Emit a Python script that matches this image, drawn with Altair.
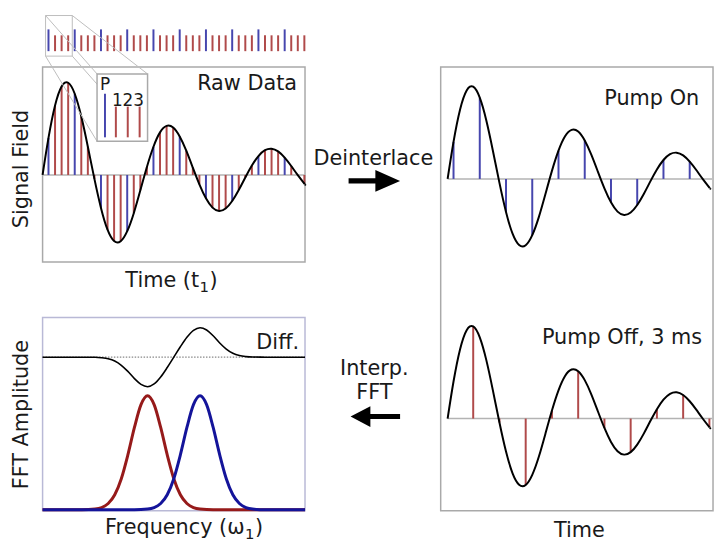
import altair as alt
import pandas as pd

FONT = "DejaVu Sans"
TXT = "#1a1a1a"
BLUE_STEM = "#4646ae"
RED_STEM = "#b04a4a"
BLUE_FFT = "#14149a"
RED_FFT = "#961a1a"
GRAY_BOX = "#a9a9a9"
GRAY_LIGHT = "#bdbdbd"
GRAY_ZERO = "#b3b3b3"
FFT_BOX = "#b9b9d6"

# ---------------- data ----------------
# sample times (units of one pulse spacing); every 4th sample is the pump ("P") pulse
STEM_T = [0.9, 1.9, 2.9, 3.9, 4.9, 5.9, 6.9, 7.9, 8.9, 9.9,
          10.9, 11.9, 12.9, 13.9, 14.9, 15.9, 16.9, 17.9, 18.9, 19.9,
          20.9, 21.9, 22.9, 23.9, 24.9, 25.9, 26.9, 27.9, 28.9, 29.9,
          30.9, 31.9, 32.9, 33.9, 34.9, 35.9, 36.9, 37.9, 38.9, 39.9]
STEM_V = [0.374, 0.701, 0.893, 0.931, 0.820, 0.590, 0.285, -0.040, -0.333, -0.553,
          -0.668, -0.670, -0.568, -0.386, -0.155, 0.081, 0.285, 0.430, 0.495, 0.478,
          0.388, 0.245, 0.074, -0.095, -0.236, -0.330, -0.364, -0.339, -0.263, -0.152,
          -0.025, 0.095, 0.191, 0.250, 0.265, 0.238, 0.175, 0.090, -0.002, -0.087]
STEM_KIND = list("P123" * 10)
CURVE_START_T, CURVE_START_V = 0.0, 0.0
CURVE_END_T, CURVE_END_V = 40.0, -0.095

RED_FREQ = [0, 15, 20, 22.5, 25, 27.5, 30, 32.5, 35, 37.5, 40, 42.5, 45, 47.5, 50, 52.5, 55, 57.5, 60, 65, 100]
RED_AMP = [0, 0, 0.006, 0.019, 0.054, 0.131, 0.272, 0.481, 0.722, 0.922, 1.0, 0.922, 0.722, 0.481, 0.272, 0.131, 0.054, 0.019, 0.006, 0, 0]
BLUE_FREQ = [0, 35, 40, 42.5, 45, 47.5, 50, 52.5, 55, 57.5, 60, 62.5, 65, 67.5, 70, 72.5, 75, 77.5, 80, 85, 100]
BLUE_AMP = [0, 0, 0.006, 0.019, 0.054, 0.131, 0.272, 0.481, 0.722, 0.922, 1.0, 0.922, 0.722, 0.481, 0.272, 0.131, 0.054, 0.019, 0.006, 0, 0]
DIFF_FREQ = [0, 15, 20, 22.5, 25, 27.5, 30, 32.5, 35, 37.5, 40, 42.5, 45, 47.5, 50,
             52.5, 55, 57.5, 60, 62.5, 65, 67.5, 70, 72.5, 75, 77.5, 80, 85, 100]
DIFF_VAL = [0, 0, -0.001, -0.005, -0.014, -0.034, -0.071, -0.125, -0.188, -0.239, -0.259, -0.235, -0.174, -0.091, 0,
            0.091, 0.174, 0.235, 0.259, 0.239, 0.188, 0.125, 0.071, 0.034, 0.014, 0.005, 0.001, 0, 0]

# ---------------- layout (pixels) ----------------
W_L, H_TL, H_BL = 310, 300, 244
W_M, W_R, H = 130, 275, 544
RAW_X0, RAW_X1, RAW_Y0, RAW_Y1, RAW_ZERO = 43, 308, 65, 262, 174
PX_PER_T, PX_PER_V = 6.625, 100.0
R_X0 = 8
ON_ZERO_PX, OFF_ZERO_PX = 178, 420
F_X0, F_X1, F_Y0, F_Y1, F_BASE, PX_PER_F, PX_PER_A = 43, 308, 18, 213, 212, 2.65, 115.0
DIFF_BASE_PX = 58

one = pd.DataFrame({"a": [0]})


def label(text, x, y, size=21, align="center", angle=0):
    return alt.Chart(one).mark_text(
        text=text, font=FONT, fontSize=size, align=align, baseline="alphabetic",
        angle=angle, color=TXT
    ).encode(x=alt.value(x), y=alt.value(y))


def sub_label(main, sub, x_join, y, sub_dy=5, close_dx=10.5):
    """Text with a subscripted '1' followed by a closing parenthesis."""
    return [
        label(main, x_join, y, align="right"),
        label(sub, x_join + 0.5, y + sub_dy, size=15, align="left"),
        label(")", x_join + close_dx, y, align="left"),
    ]


def box(x1, x2, y1, y2, stroke, sw=1.5, filled=True):
    return alt.Chart(one).mark_rect(
        fill="white", fillOpacity=1 if filled else 0, stroke=stroke, strokeWidth=sw
    ).encode(x=alt.value(x1), x2=alt.value(x2), y=alt.value(y1), y2=alt.value(y2))


def hline(x1, x2, y, color, sw=1.5, dash=None):
    kw = dict(color=color, strokeWidth=sw)
    if dash:
        kw["strokeDash"] = dash
    return alt.Chart(one).mark_rule(**kw).encode(
        x=alt.value(x1), x2=alt.value(x2), y=alt.value(y))


stems = pd.DataFrame({"t": STEM_T, "v": STEM_V, "kind": STEM_KIND})
curve = pd.DataFrame({"t": [CURVE_START_T] + STEM_T + [CURVE_END_T],
                      "v": [CURVE_START_V] + STEM_V + [CURVE_END_V]})

stem_color = alt.Color("kind:N", scale=alt.Scale(domain=["P", "1", "2", "3"],
                       range=[BLUE_STEM, RED_STEM, RED_STEM, RED_STEM]), legend=None)

# ---------------- top-left: raw data ----------------
xT = alt.X("t:Q", axis=None, scale=alt.Scale(
    domain=[-RAW_X0 / PX_PER_T, (W_L - RAW_X0) / PX_PER_T], nice=False, zero=False))
yV = alt.Y("v:Q", axis=None, scale=alt.Scale(
    domain=[(RAW_ZERO - H_TL) / PX_PER_V, RAW_ZERO / PX_PER_V], nice=False, zero=False))

raw_stems = alt.Chart(stems).mark_rule(strokeWidth=2).encode(
    x=xT, y=yV, y2=alt.datum(0), color=stem_color)
raw_curve = alt.Chart(curve).mark_line(color="black", strokeWidth=2, interpolate="natural").encode(x=xT, y=yV)
pulses = alt.Chart(stems).transform_calculate(
    top="datum.kind == 'P' ? 27 : 33").mark_rule(strokeWidth=2).encode(
    x=xT, y=alt.Y("top:Q", scale=None), y2=alt.value(49), color=stem_color)

connect = pd.DataFrame({"x1": [46, 73, 46, 73], "y1": [13, 13, 54, 54],
                        "x2": [98, 149, 98, 149], "y2": [72, 72, 140, 140]})
connectors = alt.Chart(connect).mark_rule(color=GRAY_LIGHT, strokeWidth=1).encode(
    x=alt.X("x1:Q", scale=None), y=alt.Y("y1:Q", scale=None), x2="x2:Q", y2="y2:Q")

inset = pd.DataFrame({"x": [106, 117, 129, 141], "top": [92, 105, 105, 105], "kind": ["P", "1", "2", "3"]})
inset_stems = alt.Chart(inset).mark_rule(strokeWidth=2).encode(
    x=alt.X("x:Q", scale=None), y=alt.Y("top:Q", scale=None), y2=alt.value(136), color=stem_color)

top_left = alt.layer(
    box(RAW_X0, RAW_X1, RAW_Y0, RAW_Y1, GRAY_BOX),
    hline(RAW_X0, RAW_X1, RAW_ZERO, GRAY_ZERO),
    raw_stems, raw_curve, pulses,
    box(46, 73, 13, 54, GRAY_LIGHT, sw=1, filled=False),
    connectors,
    box(98, 149, 72, 140, GRAY_BOX),
    inset_stems,
    label("P", 101, 88, size=17, align="left"),
    label("123", 113, 104, size=17, align="left"),
    label("Raw Data", 300, 88, align="right"),
    label("Signal Field", 28, 168, angle=270),
    *sub_label("Time (t", "1", 201, 287),
).properties(width=W_L, height=H_TL)

# ---------------- bottom-left: FFT ----------------
xF = alt.X("f:Q", axis=None, scale=alt.Scale(
    domain=[-F_X0 / PX_PER_F, (W_L - F_X0) / PX_PER_F], nice=False, zero=False))
yA = alt.Y("a:Q", axis=None, scale=alt.Scale(
    domain=[(F_BASE - H_BL) / PX_PER_A, F_BASE / PX_PER_A], nice=False, zero=False))
diff_base = (F_BASE - DIFF_BASE_PX) / PX_PER_A

red_df = pd.DataFrame({"f": RED_FREQ, "a": RED_AMP})
blue_df = pd.DataFrame({"f": BLUE_FREQ, "a": BLUE_AMP})
diff_df = pd.DataFrame({"f": DIFF_FREQ, "d": DIFF_VAL})

diff_line = alt.Chart(diff_df).transform_calculate(a=f"datum.d + {diff_base}").mark_line(
    color="black", strokeWidth=1.6, interpolate="monotone").encode(x=xF, y=yA)
red_line = alt.Chart(red_df).mark_line(color=RED_FFT, strokeWidth=3, interpolate="monotone").encode(x=xF, y=yA)
blue_line = alt.Chart(blue_df).mark_line(color=BLUE_FFT, strokeWidth=3, interpolate="monotone").encode(x=xF, y=yA)

bottom_left = alt.layer(
    box(F_X0, F_X1, F_Y0, F_Y1, FFT_BOX),
    hline(F_X0, F_X1, DIFF_BASE_PX, "#888888", sw=1.2, dash=[1.5, 1.5]),
    diff_line, red_line, blue_line,
    label("Diff.", 302, 50, align="right"),
    label("FFT Amplitude", 28, 116, angle=270),
    *sub_label("Frequency (\u03c9", "1", 247, 237, sub_dy=5),
).properties(width=W_L, height=H_BL)

# ---------------- middle: arrows ----------------
ARROW_R = "M-1,-0.1L0.04,-0.1L0.04,-0.42L1,0L0.04,0.42L0.04,0.1L-1,0.1Z"
ARROW_L = "M1,-0.1L-0.2,-0.1L-0.2,-0.42L-1,0L-0.2,0.42L-0.2,0.1L1,0.1Z"


def arrow(path, x, y, size):
    return alt.Chart(one).mark_point(shape=path, filled=True, color="black", opacity=1,
                                     size=size, strokeWidth=0).encode(x=alt.value(x), y=alt.value(y))


middle = alt.layer(
    label("Deinterlace", 63, 164),
    arrow(ARROW_R, 64, 180, 2704),
    label("Interp.", 64, 376),
    label("FFT", 64, 400),
    arrow(ARROW_L, 65, 418, 2500),
).properties(width=W_M, height=H)

# ---------------- right: deinterlaced ----------------
xR = alt.X("t:Q", axis=None, scale=alt.Scale(
    domain=[-R_X0 / PX_PER_T, (W_R - R_X0) / PX_PER_T], nice=False, zero=False))
yR = alt.Y("y:Q", axis=None, scale=alt.Scale(domain=[0, H / PX_PER_V], nice=False, zero=False))
on_zero = (H - ON_ZERO_PX) / PX_PER_V
off_zero = (H - OFF_ZERO_PX) / PX_PER_V


def pump(kind, zero, color):
    st = alt.Chart(stems).transform_filter(f"datum.kind == '{kind}'").transform_calculate(
        y=f"datum.v + {zero}").mark_rule(strokeWidth=2, color=color).encode(
        x=xR, y=yR, y2=alt.datum(zero))
    cv = alt.Chart(curve).transform_calculate(y=f"datum.v + {zero}").mark_line(
        color="black", strokeWidth=2, interpolate="natural").encode(x=xR, y=yR)
    return st, cv


on_st, on_cv = pump("P", on_zero, BLUE_STEM)
off_st, off_cv = pump("3", off_zero, RED_STEM)

right = alt.layer(
    box(1, W_R + 1, 65, 513, GRAY_BOX),
    hline(R_X0, W_R, ON_ZERO_PX, GRAY_ZERO),
    hline(R_X0, W_R, OFF_ZERO_PX, GRAY_ZERO),
    on_st, on_cv, off_st, off_cv,
    label("Pump On", 262, 103, align="right"),
    label("Pump Off, 3 ms", 265, 345, align="right"),
    label("Time", 141, 540),
).properties(width=W_R, height=H)

chart = alt.hconcat(
    alt.vconcat(top_left, bottom_left, spacing=0),
    middle, right, spacing=0
).properties(padding=0, background="white").configure_view(strokeWidth=0)

chart.save("out.html", embed_options={"renderer": "svg", "actions": False})
